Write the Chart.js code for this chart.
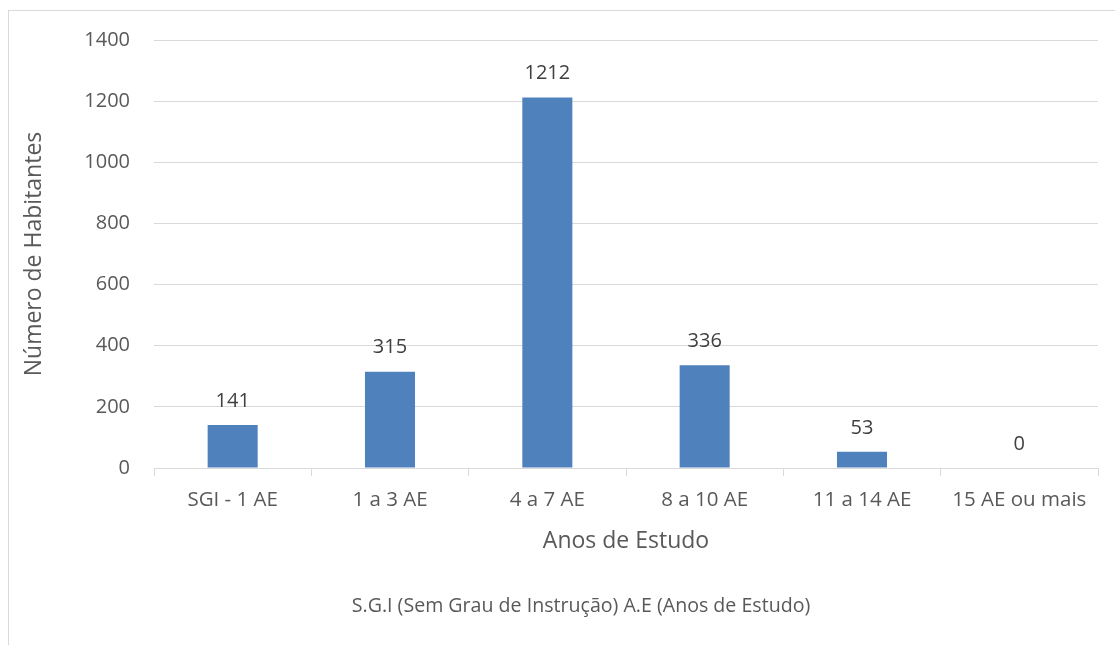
<!DOCTYPE html>
<html>
<head>
<meta charset="utf-8">
<script src="https://cdn.jsdelivr.net/npm/chart.js@4/dist/chart.umd.min.js"></script>
<style>
  html, body { margin: 0; padding: 0; background: #ffffff; }
  canvas { display: block; }
</style>
</head>
<body>
<canvas id="chart" width="1115" height="645"></canvas>
<script>
// Habitantes por faixa de anos de estudo
const categories = ['SGI - 1 AE', '1 a 3 AE', '4 a 7 AE', '8 a 10 AE', '11 a 14 AE', '15 AE ou mais'];
const habitantes = [141, 315, 1212, 336, 53, 0];
const yTicks = [0, 200, 400, 600, 800, 1000, 1200, 1400];

const FONT = '"Open Sans", "Noto Sans", sans-serif';
const GRID = '#d9d9d9';
const TEXT = '#595959';
const NOTE = 'S.G.I (Sem Grau de Instrução) A.E (Anos de Estudo)';

// Outer frame and the note under the axis title
const framePlugin = {
  id: 'frame',
  beforeDraw(chart) {
    const ctx = chart.ctx;
    ctx.save();
    ctx.fillStyle = '#ffffff';
    ctx.fillRect(0, 0, chart.width, chart.height);
    ctx.strokeStyle = GRID;
    ctx.lineWidth = 1;
    ctx.strokeRect(8.5, 10.5, chart.width + 20, chart.height + 20);
    ctx.restore();
  },
  afterDraw(chart) {
    const ctx = chart.ctx;
    ctx.save();
    ctx.font = '19.6px ' + FONT;
    ctx.fillStyle = TEXT;
    ctx.textAlign = 'center';
    ctx.textBaseline = 'middle';
    ctx.fillText(NOTE, 581, 606);
    ctx.restore();
  }
};

// Value written above each bar
const valueLabels = {
  id: 'valueLabels',
  afterDatasetsDraw(chart) {
    const ctx = chart.ctx;
    const meta = chart.getDatasetMeta(0);
    ctx.save();
    ctx.font = '20px ' + FONT;
    ctx.fillStyle = '#404040';
    ctx.textAlign = 'center';
    ctx.textBaseline = 'middle';
    meta.data.forEach((bar, i) => {
      ctx.fillText(String(chart.data.datasets[0].data[i]), bar.x, bar.y - 24);
    });
    ctx.restore();
  }
};

new Chart(document.getElementById('chart'), {
  type: 'bar',
  data: {
    labels: categories,
    datasets: [{
      label: 'Número de Habitantes',
      data: habitantes,
      backgroundColor: '#4f81bd',
      borderWidth: 0,
      categoryPercentage: 1,
      barPercentage: 0.318
    }]
  },
  options: {
    responsive: false,
    animation: false,
    devicePixelRatio: 1,
    layout: { padding: { left: 0, right: 17, top: 40, bottom: 0 } },
    plugins: {
      legend: { display: false },
      tooltip: { enabled: false },
      title: { display: false }
    },
    scales: {
      x: {
        afterFit(scale) { scale.height = 177; },
        grid: {
          offset: true,
          drawOnChartArea: false,
          drawTicks: true,
          tickLength: 8,
          color: GRID,
          lineWidth: 1
        },
        border: { color: GRID, width: 1 },
        ticks: {
          color: TEXT,
          font: { family: FONT, size: 20.5 },
          padding: 12,
          maxRotation: 0,
          autoSkip: false
        },
        title: {
          display: true,
          text: 'Anos de Estudo',
          color: TEXT,
          font: { family: FONT, size: 23 },
          padding: { top: 0, bottom: 90 }
        }
      },
      y: {
        min: 0,
        max: 1400,
        afterFit(scale) { scale.width = 154; },
        afterBuildTicks(scale) { scale.ticks = yTicks.map(v => ({ value: v })); },
        grid: {
          color: GRID,
          lineWidth: 1,
          drawTicks: false
        },
        border: { display: false },
        ticks: {
          color: TEXT,
          font: { family: FONT, size: 20 },
          padding: 24,
          callback: (v) => String(v)
        },
        title: {
          display: true,
          text: 'Número de Habitantes',
          color: TEXT,
          font: { family: FONT, size: 23 },
          padding: { top: 21, bottom: 0 }
        }
      }
    }
  },
  plugins: [framePlugin, valueLabels]
});
</script>
</body>
</html>
